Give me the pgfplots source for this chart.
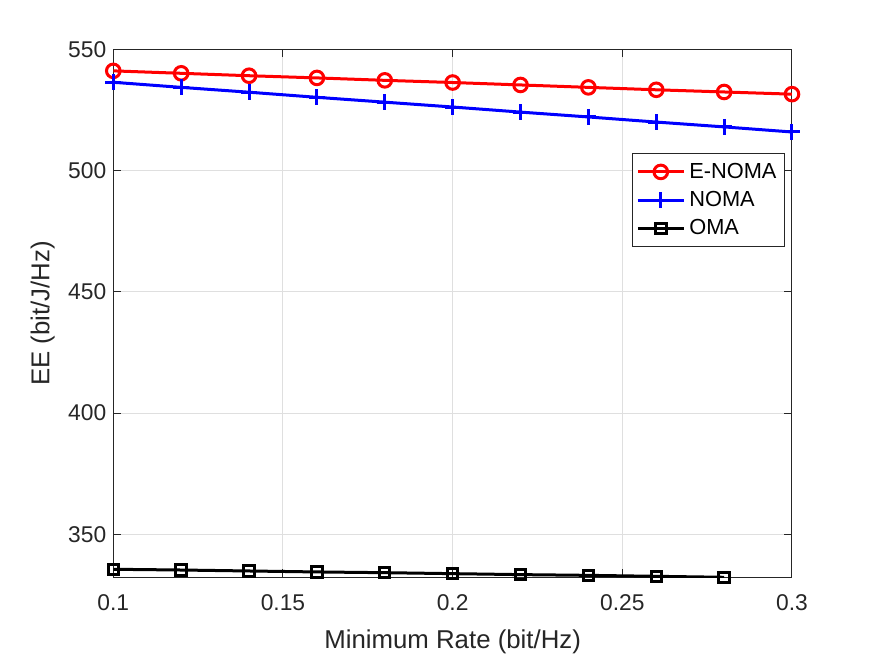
\documentclass[border=0pt]{standalone}
\usepackage{fontspec}
\setmainfont{Liberation Sans}
\usepackage{pgfplots}
\pgfplotsset{compat=1.18}

\definecolor{axgray}{RGB}{38,38,38}
\definecolor{gridgray}{RGB}{223,223,223}

\begin{document}
\begin{tikzpicture}
\useasboundingbox (-56.65pt,-39.85pt) rectangle (380.85pt,288.65pt);
\begin{axis}[
  scale only axis,
  width=339.35pt, height=264pt,
  at={(0,0)}, anchor=south west,
  xmin=0.1, xmax=0.3,
  ymin=332.3, ymax=550,
  xtick={0.1,0.15,0.2,0.25,0.3},
  xticklabels={0.1,0.15,0.2,0.25,0.3},
  ytick={350,400,450,500,550},
  tick align=inside,
  major tick length=4pt,
  axis line style={axgray, line width=0.5pt},
  every tick/.style={axgray, line width=0.5pt},
  grid=major,
  major grid style={gridgray, line width=0.5pt},
  /pgf/number format/assume math mode=true,
  ticklabel style={font=\fontsize{11.4pt}{13pt}\selectfont, text=axgray},
  xlabel={Minimum Rate (bit/Hz)},
  ylabel={EE (bit/J/Hz)},
  label style={font=\fontsize{12.9pt}{15pt}\selectfont, text=axgray},
  xlabel style={at={(axis description cs:0.5,-0.123)}, anchor=center},
  ylabel style={at={(axis description cs:-0.104,0.5)}, anchor=center, rotate=0},
  xticklabel style={yshift=-5pt},
  legend style={at={(rel axis cs:0.9897,0.803)}, anchor=north east,
    draw=axgray, line width=0.5pt, fill=white,
    font=\fontsize{10.9pt}{13pt}\selectfont, text=black,
    inner xsep=2pt, inner ysep=2.5pt,
    row sep=1pt,
    nodes={inner sep=2pt}},
  legend cell align=left,
  legend image code/.code={
    \draw[mark repeat=2,mark phase=2] plot coordinates {(0pt,0pt) (11.5pt,0pt) (23pt,0pt)};
  },
  clip=true,
]
\addplot[red, line width=1.5pt, mark=o, mark size=3.4pt, mark options={solid, line width=1.5pt}]
coordinates {
(0.10,541.1) (0.12,540.1) (0.14,539.1) (0.16,538.2) (0.18,537.2)
(0.20,536.3) (0.22,535.3) (0.24,534.3) (0.26,533.3) (0.28,532.4) (0.30,531.5)
};
\addlegendentry{E-NOMA}
\addplot[blue, line width=1.5pt, mark=+, mark size=4pt, mark options={solid, line width=1.5pt}]
coordinates {
(0.10,536.4) (0.12,534.3) (0.14,532.3) (0.16,530.2) (0.18,528.2)
(0.20,526.2) (0.22,524.1) (0.24,522.1) (0.26,520.0) (0.28,518.0) (0.30,515.9)
};
\addlegendentry{NOMA}
\addplot[black, line width=1.5pt, mark=square, mark size=2.6pt, mark options={solid, line width=1.5pt}]
coordinates {
(0.10,335.6) (0.12,335.3) (0.14,334.9) (0.16,334.5) (0.18,334.2)
(0.20,333.8) (0.22,333.4) (0.24,333.1) (0.26,332.7) (0.28,332.3)
};
\addlegendentry{OMA}
\end{axis}
\end{tikzpicture}
\end{document}
